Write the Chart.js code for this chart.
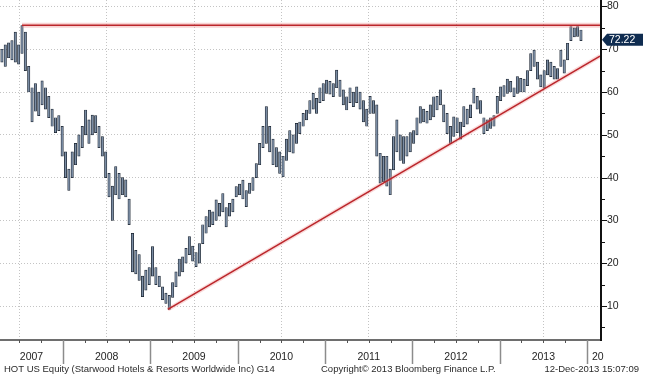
<!DOCTYPE html>
<html><head><meta charset="utf-8">
<script src="https://cdn.jsdelivr.net/npm/chart.js@4/dist/chart.umd.min.js"></script>
<style>
html,body{margin:0;padding:0;background:#fff;}
#wrap{width:645px;height:376px;}
</style></head><body>
<div id="wrap"><canvas id="c" width="645" height="376"></canvas></div>
<script>
/* HOT US Equity — bars every 2 weeks, late Apr 2007 -> Dec 2013 */
const firstBar = 2007.30;
const barStep  = 14 / 365.25;

const lows = [
  67,66,68,67.5,67,66.5,69,65,60,53, 55.5,54.5,57,56,54,52,50.5,51,45,40,
  37,40,43,45,47,50,48,50,50.5,47, 45,40,35.5,30,36,35,36,35.5,29,18,
  17.5,16,12.2,13.7,15,17,15,14.5,11.5,10.6, 9.2,12,14.5,17,18,20,22,20.5,19.2,20,
  24.6,27,28.5,29,30,31,32,28.5,31,32, 35.5,36,35,33.2,36.3,37,40,43,47,48,
  46,43,42.5,41,40.2,44,46,45.7,48,50.3, 52,53.5,55,56,55,57.5,58,59.7,59.5,58.9,
  61,59,57,55.8,57.5,56.6,57.5,56,53,52, 55,55,45,38.7,39,38,36,41.8,46,44,
  43.3,45,46,48,50,52.7,53,52.7,53.5,54.2, 55.8,57,53,50.3,48,49.6,50.5,49,51.9,52.5,
  54,57.4,56,55,50.3,51,51.5,52,55,58, 59,59.7,60,58.9,59.7,60,60,61.5,65,66,
  63,61.2,60.9,64,63.6,63,63,66,64.4,67.5, 72,72.9,73,72
];
const highs = [
  70,71,71.5,72,74,71,75.5,74,66,61, 62,60,62.6,61,59,56,54,54.5,52,46,
  42,46,48,50,52,55.8,53.5,54.6,54.5,52, 49.6,46,41,38,42.6,41,40,39.5,35,27,
  23,22,17,18.4,19,23.9,19,17,14.5,13, 12.5,15.5,18,21,21.5,23.5,26.2,24,22.5,24.6,
  29,30.9,32.4,32,34.8,34,36.3,33,34,35, 37.9,38.5,39.4,37,38.7,40,43.3,48,52,56.6,
  52,49,47,46,45,49,51,50,52.7,53, 55,55.8,58,59.7,58.5,61,62,62.8,62.5,62,
  65.1,62.8,60.5,58.9,61,60,61.2,60,58,56, 59,58,57,45.7,45,45,42,49.6,53.5,50,
  49.6,49.6,50.5,51,54,56.6,56,55.5,57,58.9, 59,60.5,57,55,52,54.2,54,53,56.6,56,
  57,60.9,59,58,54,53.5,54,54.5,59,61.2, 61.5,63,62.5,61,63.6,63.2,63,65,69,69.8,
  67,64,65,67.5,67,66,65.5,69.8,67.5,71.4, 75.3,75,75.3,74.5
];

const lastPrice   = 72.22;
const resistLevel = 75.6;
const resistFrom  = 2007.53;
const trendStart  = { x: 2009.20, y: 9.2 };
const trendEnd    = { x: 2014.149, y: 68.4 };

const yearEdges = [2008, 2009, 2010, 2011, 2012, 2013, 2014];
const yearNames = ['2007', '2008', '2009', '2010', '2011', '2012', '2013', '20'];
const yTicks    = [10, 20, 30, 40, 50, 60, 70, 80];
const xMin = 2007.278, xMax = 2014.149, yMin = 2.3, yMax = 81.5;

const footLeft  = 'HOT US Equity (Starwood Hotels & Resorts Worldwide Inc) G14';
const footMid   = 'Copyright\u00a9 2013 Bloomberg Finance L.P.';
const footRight = '12-Dec-2013 15:07:09';

const bars = lows.map((lo, i) => ({ x: firstBar + i * barStep, y: [lo, highs[i]] }));

/* cadre façon Bloomberg : axes, étiquettes, prix courant, pied */
const frame = {
  id: 'frame',
  afterDraw(chart) {
    const { ctx, chartArea: a, scales: { x: xs, y: ys } } = chart;
    ctx.save();

    // axe du bas
    ctx.strokeStyle = '#6e6e6e'; ctx.lineWidth = 2;
    ctx.beginPath(); ctx.moveTo(0, a.bottom + 1); ctx.lineTo(a.right, a.bottom + 1); ctx.stroke();
    for (let yr = 2007; yr <= 2014; yr++) {
      for (let q = 0; q < 4; q++) {
        const v = yr + q / 4;
        if (v < xMin || v > xMax) continue;
        const px = Math.round(xs.getPixelForValue(v)) + 0.5;
        ctx.lineWidth = q === 0 ? 1.5 : 1;
        ctx.strokeStyle = q === 0 ? '#8c8c8c' : '#555';
        ctx.beginPath(); ctx.moveTo(px, a.bottom + 1);
        ctx.lineTo(px, a.bottom + (q === 0 ? 25 : 4)); ctx.stroke();
      }
    }
    ctx.fillStyle = '#1e1e1e';
    ctx.font = '10.5px "Liberation Sans", Arial, sans-serif';
    ctx.textBaseline = 'middle';
    const edges = [xMin, ...yearEdges, xMax];
    yearNames.forEach((nm, i) => {
      const l = xs.getPixelForValue(edges[i]), r = xs.getPixelForValue(edges[i + 1]);
      if (i === yearNames.length - 1) { ctx.textAlign = 'left'; ctx.fillText(nm, l + 5, a.bottom + 18); }
      else { ctx.textAlign = 'center'; ctx.fillText(nm, (l + r) / 2, a.bottom + 18); }
    });

    // axe de droite
    const ax = a.right + 1;
    ctx.strokeStyle = '#111'; ctx.lineWidth = 2;
    ctx.beginPath(); ctx.moveTo(ax, 0); ctx.lineTo(ax, a.bottom + 2); ctx.stroke();
    ctx.lineWidth = 1;
    for (let v = 5; v <= 80; v += 5) {
      const py = Math.round(ys.getPixelForValue(v)) + 0.5;
      ctx.beginPath(); ctx.moveTo(ax, py); ctx.lineTo(ax + (v % 10 ? 4 : 6), py); ctx.stroke();
    }
    ctx.textAlign = 'left';
    yTicks.forEach(v => ctx.fillText(String(v), ax + 6, ys.getPixelForValue(v)));

    // prix courant
    const py = ys.getPixelForValue(lastPrice);
    ctx.fillStyle = '#0f2c50';
    ctx.beginPath();
    ctx.moveTo(ax + 1, py); ctx.lineTo(ax + 6, py - 6); ctx.lineTo(643, py - 6);
    ctx.lineTo(643, py + 6); ctx.lineTo(ax + 6, py + 6); ctx.closePath(); ctx.fill();
    ctx.fillStyle = '#fff';
    ctx.fillText(lastPrice.toFixed(2), ax + 8, py + 0.5);

    // pied de page
    ctx.fillStyle = '#2a2a2a';
    ctx.font = '9.5px "Liberation Sans", Arial, sans-serif';
    ctx.textAlign = 'left';  ctx.fillText(footLeft, 4, 369);
    ctx.fillText(footMid, 321, 369);
    ctx.textAlign = 'right'; ctx.fillText(footRight, 639, 369);
    ctx.restore();
  }
};

new Chart(document.getElementById('c'), {
  type: 'bar',
  data: {
    datasets: [
      { type: 'line', data: [{ x: resistFrom, y: resistLevel }, { x: xMax, y: resistLevel }],
        borderColor: 'rgba(235,130,130,0.35)', borderWidth: 5, pointRadius: 0, order: 1 },
      { type: 'line', data: [trendStart, trendEnd],
        borderColor: 'rgba(235,130,130,0.3)', borderWidth: 4, pointRadius: 0, order: 1 },
      { type: 'line', data: [{ x: resistFrom, y: resistLevel }, { x: xMax, y: resistLevel }],
        borderColor: '#bb262b', borderWidth: 1.6, pointRadius: 0, order: 0 },
      { type: 'line', data: [trendStart, trendEnd],
        borderColor: '#bb262b', borderWidth: 1.5, pointRadius: 0, order: 0 },
      { data: bars, backgroundColor: '#7a8ca3', borderColor: '#18212d',
        borderWidth: 0.7, borderSkipped: false, barThickness: 2.4, order: 2 }
    ]
  },
  options: {
    responsive: false, animation: false, devicePixelRatio: 1,
    layout: { padding: 0 },
    plugins: { legend: { display: false }, tooltip: { enabled: false } },
    scales: {
      x: { type: 'linear', min: xMin, max: xMax, offset: false,
           afterBuildTicks: s => { s.ticks = yearEdges.map(v => ({ value: v })); },
           afterFit: s => { s.height = 37; },
           ticks: { display: false },
           grid: { color: '#c4c4c4', drawTicks: false },
           border: { display: false, dash: [1, 2] } },
      y: { position: 'right', min: yMin, max: yMax,
           afterBuildTicks: s => { s.ticks = yTicks.map(v => ({ value: v })); },
           afterFit: s => { s.width = 45; },
           ticks: { display: false },
           grid: { color: '#c4c4c4', drawTicks: false },
           border: { display: false, dash: [1, 2] } }
    }
  },
  plugins: [frame]
});
</script>
</body></html>
